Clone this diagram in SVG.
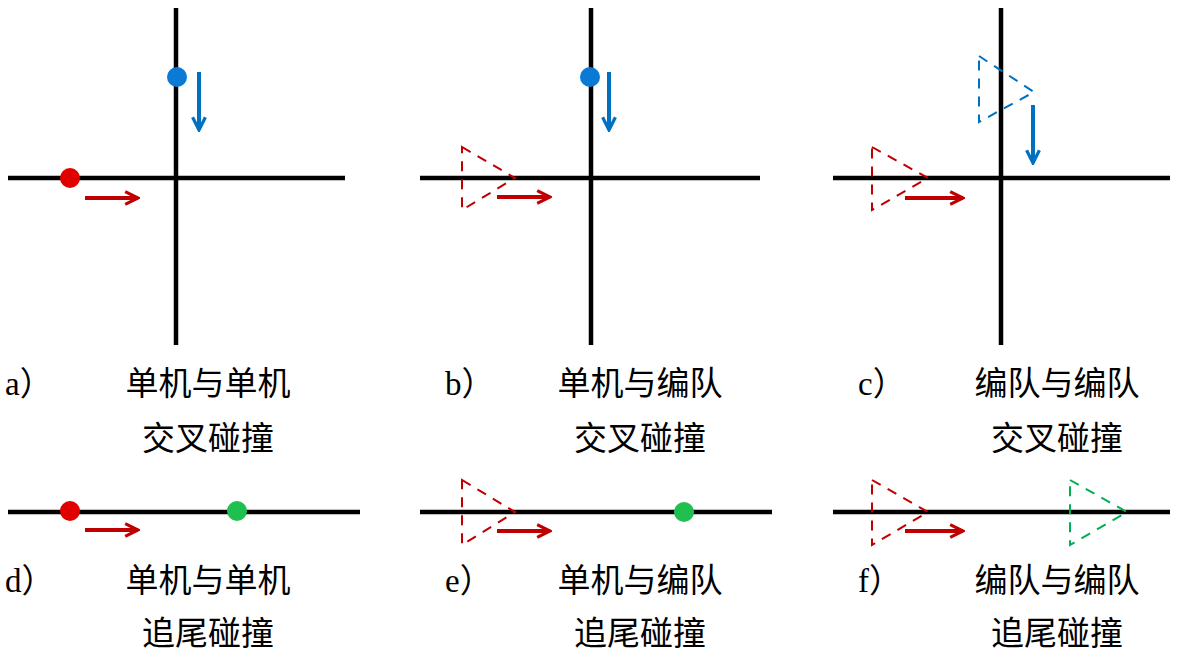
<svg xmlns="http://www.w3.org/2000/svg" width="1200" height="661" viewBox="0 0 1200 661">
<defs>
<style>
.ax{stroke:#000;stroke-width:4.5;fill:none}
.ar{stroke:#c00000;stroke-width:4;fill:none}
.ab{stroke:#0070c0;stroke-width:4;fill:none}
.tr{stroke:#c00000;stroke-width:2;stroke-dasharray:10,8;fill:none}
.tb{stroke:#0070c0;stroke-width:2;stroke-dasharray:10,8;fill:none}
.tg{stroke:#00b050;stroke-width:2;stroke-dasharray:10,8;fill:none}
.t{font-family:"Liberation Serif","Noto Sans CJK SC",serif;font-size:33px;fill:#000}
.c{text-anchor:middle}
</style>
<marker id="mr" viewBox="0 0 10 10" refX="9" refY="5" markerWidth="4" markerHeight="4" orient="auto" markerUnits="strokeWidth"><path d="M1,1L9,5L1,9" fill="none" stroke="#c00000" stroke-width="2"/></marker>
<marker id="mb" viewBox="0 0 10 10" refX="9" refY="5" markerWidth="4" markerHeight="4" orient="auto" markerUnits="strokeWidth"><path d="M1,1L9,5L1,9" fill="none" stroke="#0070c0" stroke-width="2"/></marker>
</defs>
<g id="axes">
<path class="ax" d="M8,178H345M176,8V345M420,178H760M591,8V345M833,178H1170M1001,8V345M8,512H360M420,512H772M833,512H1170"/>
</g>
<g id="nodes">
<circle id="a-red" cx="70" cy="178" r="10" fill="#e00000"/>
<circle id="a-blue" cx="177" cy="77" r="10" fill="#0a7ad6"/>
<circle id="b-blue" cx="590" cy="77" r="10" fill="#0a7ad6"/>
<polygon id="b-tri" class="tr" points="462,147 515,178 462,210"/>
<polygon id="c-tri-r" class="tr" points="872,147 928,178 872,210"/>
<polygon id="c-tri-b" class="tb" points="979,56 1034,92 979,122"/>
<circle id="d-red" cx="70" cy="511" r="10" fill="#e00000"/>
<circle id="d-green" cx="237" cy="511" r="10" fill="#1fc050"/>
<polygon id="e-tri" class="tr" points="462,480 515,512 462,545"/>
<circle id="e-green" cx="684" cy="512" r="10" fill="#1fc050"/>
<polygon id="f-tri-r" class="tr" points="872,480 928,512 872,545"/>
<polygon id="f-tri-g" class="tg" points="1070,480 1127,512 1070,545"/>
</g>
<g id="connectors">
<path class="ar" marker-end="url(#mr)" d="M85,198H138"/>
<path class="ar" marker-end="url(#mr)" d="M497,197H550"/>
<path class="ar" marker-end="url(#mr)" d="M905,198H963"/>
<path class="ar" marker-end="url(#mr)" d="M85,530H138"/>
<path class="ar" marker-end="url(#mr)" d="M497,531H550"/>
<path class="ar" marker-end="url(#mr)" d="M905,531H963"/>
<path class="ab" marker-end="url(#mb)" d="M199,72V130"/>
<path class="ab" marker-end="url(#mb)" d="M609,72V130"/>
<path class="ab" marker-end="url(#mb)" d="M1033,105V163"/>
</g>
<g id="labels" class="t">
<text x="5" y="395">a）</text><text class="c" x="208" y="395">单机与单机</text><text class="c" x="208" y="450">交叉碰撞</text>
<text x="445" y="395">b）</text><text class="c" x="640" y="395">单机与编队</text><text class="c" x="640" y="450">交叉碰撞</text>
<text x="858" y="395">c）</text><text class="c" x="1057" y="395">编队与编队</text><text class="c" x="1057" y="450">交叉碰撞</text>
<text x="5" y="592">d）</text><text class="c" x="208" y="592">单机与单机</text><text class="c" x="208" y="645">追尾碰撞</text>
<text x="445" y="592">e）</text><text class="c" x="640" y="592">单机与编队</text><text class="c" x="640" y="645">追尾碰撞</text>
<text x="858" y="592">f）</text><text class="c" x="1057" y="592">编队与编队</text><text class="c" x="1057" y="645">追尾碰撞</text>
</g>
</svg>
